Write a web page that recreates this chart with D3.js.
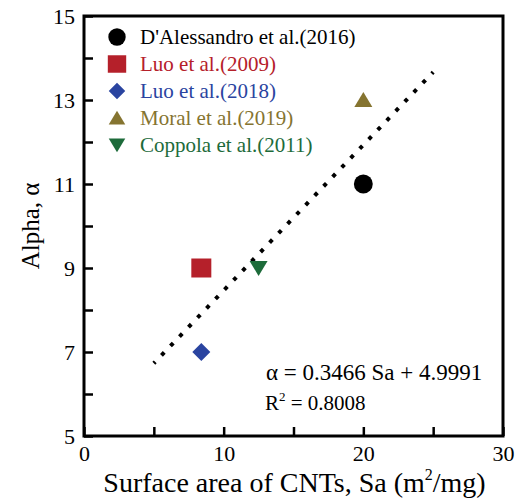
<!DOCTYPE html>
<html>
<head>
<meta charset="utf-8">
<title>alpha vs surface area</title>
<style>
  body { margin: 0; background: #fff; }
</style>
<script src="https://cdn.jsdelivr.net/npm/d3@7/dist/d3.min.js"></script>
</head>
<body>
<svg width="524" height="503"></svg>
<script>
// data
var studies = ["D'Alessandro et al.(2016)", "Luo et al.(2009)", "Luo et al.(2018)", "Moral et al.(2019)", "Coppola et al.(2011)"];
var sa      = [20, 8.4, 8.4, 20, 12.5];
var alpha   = [11, 9, 7, 13, 9];
var colors  = ["#000000", "#b5202a", "#2a44a0", "#857430", "#1d6b3a"];
var shapes  = ["circle", "square", "diamond", "triangle", "triangledown"];
var xTicks = [0, 10, 20, 30];
var yTicks = [5, 7, 9, 11, 13, 15];
var fitSlope = 0.3466, fitIntercept = 4.9991, fitRange = [5, 25];

var SERIF = "'Liberation Serif', 'Times New Roman', Times, serif";

var svg = d3.select("svg");
var margin = {left: 84, right: 21, top: 16, bottom: 67};
var W = 524, H = 503;

var x = d3.scaleLinear().domain([0, 30]).range([margin.left, W - margin.right]);
var y = d3.scaleLinear().domain([5, 15]).range([H - margin.bottom, margin.top]);

function markerPath(shape) {
    if (shape === "circle") return d3.symbol(d3.symbolCircle, 280)();
    if (shape === "square") return "M-10,-9.5L10,-9.5L10,9.5L-10,9.5Z";
    if (shape === "diamond") return "M0,-9L9,0L0,9L-9,0Z";
    if (shape === "triangle") return "M0,-8L9,7L-9,7Z";
    return "M0,8L9,-7L-9,-7Z";
}

// trend line (dotted)
var p0 = [x(fitRange[0]), y(fitSlope * fitRange[0] + fitIntercept)];
var p1 = [x(fitRange[1]), y(fitSlope * fitRange[1] + fitIntercept)];
var len = Math.hypot(p1[0] - p0[0], p1[1] - p0[1]);
var period = len / 31;
svg.append("line")
    .attr("x1", p0[0]).attr("y1", p0[1])
    .attr("x2", p1[0]).attr("y2", p1[1])
    .attr("stroke", "#000").attr("stroke-width", 4)
    .attr("stroke-dasharray", "4 " + (period - 4))
    .attr("stroke-dashoffset", 2);

// axes
var tickIn = function(ax) { return ax.tickSizeInner(-9).tickSizeOuter(0).tickPadding(8); };
var minorIn = function(ax) { return ax.tickSizeInner(-9).tickSizeOuter(0).tickFormat(""); };

var xAxis = svg.append("g").attr("transform", "translate(0," + y(5) + ")")
    .call(tickIn(d3.axisBottom(x).tickValues(xTicks)));
svg.append("g").attr("transform", "translate(0," + y(5) + ")")
    .call(minorIn(d3.axisBottom(x).tickValues([5, 15, 25])));
var yAxis = svg.append("g").attr("transform", "translate(" + x(0) + ",0)")
    .call(tickIn(d3.axisLeft(y).tickValues(yTicks)));
svg.append("g").attr("transform", "translate(" + x(0) + ",0)")
    .call(minorIn(d3.axisLeft(y).tickValues([6, 8, 10, 12, 14])));

svg.selectAll(".domain").remove();
svg.selectAll(".tick line").attr("stroke", "#000").attr("stroke-width", 2.5);
svg.selectAll(".tick text").attr("fill", "#000")
    .style("font-size", "22px").style("font-family", SERIF);
xAxis.selectAll(".tick text").attr("dy", "0.78em");
yAxis.selectAll(".tick text").attr("dx", "-1").attr("dy", "0.36em");

// frame
svg.append("rect")
    .attr("x", x(0)).attr("y", y(15))
    .attr("width", x(30) - x(0)).attr("height", y(5) - y(15))
    .attr("fill", "none").attr("stroke", "#000").attr("stroke-width", 3);

// points
svg.selectAll(".pt").data(studies).enter().append("path")
    .attr("class", "pt")
    .attr("transform", function(d, i) { return "translate(" + x(sa[i]) + "," + y(alpha[i]) + ")"; })
    .attr("d", function(d, i) { return markerPath(shapes[i]); })
    .attr("fill", function(d, i) { return colors[i]; });

// legend
var lg = svg.append("g");
studies.forEach(function(s, i) {
    var ly = 37 + i * 27;
    lg.append("path").attr("transform", "translate(117," + ly + ") scale(0.92)")
        .attr("d", markerPath(shapes[i])).attr("fill", colors[i]);
    lg.append("text").attr("x", 140).attr("y", ly + 7)
        .style("font-family", SERIF).style("font-size", "21px")
        .attr("fill", colors[i]).text(s);
});

// equation
svg.append("text").attr("x", 266).attr("y", 380)
    .style("font-family", SERIF).style("font-size", "23px")
    .text("\u03b1 = 0.3466 Sa + 4.9991");
var r2 = svg.append("text").attr("x", 265).attr("y", 410)
    .style("font-family", SERIF).style("font-size", "21px");
r2.append("tspan").text("R");
r2.append("tspan").style("font-size", "13px").attr("dy", -9).text("2");
r2.append("tspan").attr("dy", 9).text(" = 0.8008");

// axis titles
var xt = svg.append("text").attr("x", (x(0) + x(30)) / 2 + 1).attr("y", 492)
    .attr("text-anchor", "middle")
    .style("font-family", SERIF).style("font-size", "28px");
xt.append("tspan").text("Surface area of CNTs, Sa (m");
xt.append("tspan").style("font-size", "16px").attr("dy", -12).text("2");
xt.append("tspan").attr("dy", 12).text("/mg)");

svg.append("text")
    .attr("transform", "translate(39," + ((y(5) + y(15)) / 2) + ") rotate(-90)")
    .attr("text-anchor", "middle")
    .style("font-family", SERIF).style("font-size", "25px")
    .text("Alpha, \u03b1");
</script>
</body>
</html>
